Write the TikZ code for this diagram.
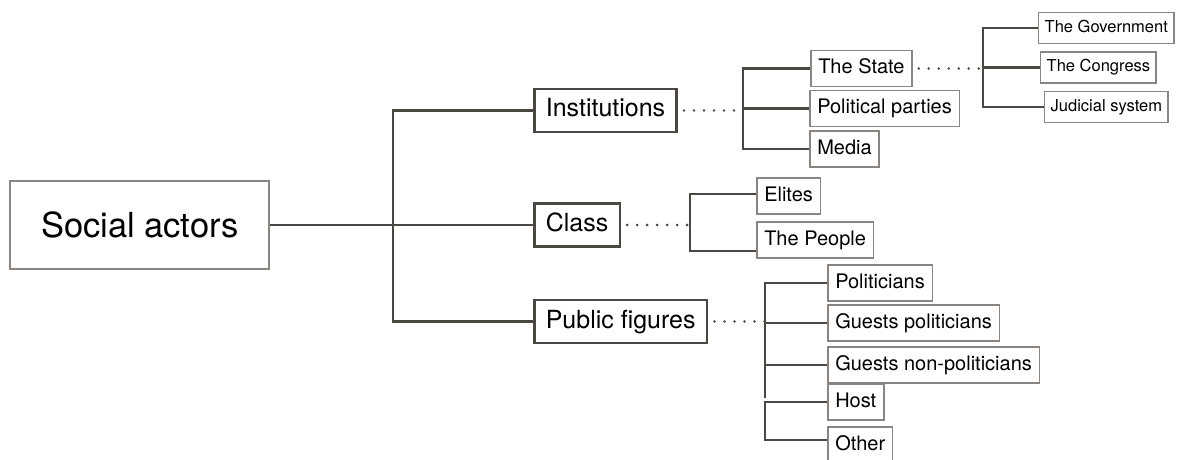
\documentclass[tikz,border=0pt]{standalone}
\usepackage{fontspec}
\setmainfont{TeX Gyre Heros}
\usepackage{tikz}

\definecolor{linegray}{HTML}{4B4742}
\definecolor{boxgray}{HTML}{8A8580}

\tikzset{
  rootbox/.style={draw=boxgray, line width=2pt, anchor=west, inner xsep=31pt,
    minimum height=88pt, font=\fontsize{34.5}{40}\selectfont},
  midbox/.style={draw=linegray, line width=2.6pt, anchor=west, inner xsep=11.5pt,
    minimum height=43pt, text height=18pt, text depth=5pt, font=\fontsize{25}{30}\selectfont},
  leafbox/.style={draw=boxgray, line width=1.5pt, anchor=west, inner xsep=7.5pt,
    minimum height=36pt, text height=15pt, text depth=4.5pt, font=\fontsize{20}{24}\selectfont},
  subbox/.style={draw=boxgray, line width=1.4pt, anchor=west, inner xsep=6pt,
    minimum height=31pt, text height=12pt, text depth=3.5pt, font=\fontsize{16.5}{20}\selectfont},
  branch/.style={draw=linegray, line width=2.8pt},
  dots/.style={draw=linegray, line width=2.8pt, line cap=round, dash pattern=on 0pt off 10pt}
}

\begin{document}
\begin{tikzpicture}[x=1pt, y=-1pt]
  \useasboundingbox (0,0) rectangle (1187,460);

  % Nodes
  \node[rootbox] (root) at (9,225) {Social actors};

  \foreach \n/\y/\t in {inst/110.5/Institutions, class/225/Class, pub/321.5/Public figures}{
    \node[midbox] (\n) at (533,\y) {\t};
  }

  \foreach \n/\x/\y/\t in {state/810/68.5/The State, parties/809/108.5/Political parties,
      media/809/149/Media, elites/756/196/Elites, people/756/240/The People,
      pol/827/283/Politicians, gpol/827/323/Guests politicians,
      gnon/827/365/Guests non-politicians, host/827/402/Host, other/827/445/Other}{
    \node[leafbox] (\n) at (\x,\y) {\t};
  }

  \foreach \n/\x/\y/\t in {gov/1038/28/The Government, cong/1040/67.5/The Congress,
      jud/1044/107/Judicial system}{
    \node[subbox] (\n) at (\x,\y) {\t};
  }

  % Trunks
  \coordinate (t0) at (393,225);
  \coordinate (t1) at (743,110.5);
  \coordinate (t2) at (690,225);
  \coordinate (t3) at (765,321.5);
  \coordinate (t3b) at (765,398);
  \coordinate (t3c) at (765,420);
  \coordinate (t4) at (983,68.5);

  % Edges
  \draw[branch] (root) -- (class);
  \draw[branch] (inst.west) -| (t0);
  \draw[branch] (t0) |- (pub.west);

  \draw[dots] ([xshift=6pt]inst.east) -- (t1);
  \foreach \n in {state,parties,media}{
    \draw[branch] (t1) |- (\n.west);
  }

  \draw[dots] ([xshift=6pt]class.east) -- (t2);
  \draw[branch] (t2) |- ([yshift=2pt]elites.west);
  \draw[branch] (t2) |- ([yshift=-11pt]people.west);

  \draw[dots] ([xshift=6pt]pub.east) -- (t3);
  \foreach \n in {pol,gpol,gnon}{
    \draw[branch] (t3) |- (\n.west);
  }
  \draw[branch] (t3) -- (t3b);
  \draw[branch] (host.west) -| (t3c) |- ([yshift=5pt]other.west);

  \draw[dots] ([xshift=6pt]state.east) -- (t4);
  \foreach \n in {gov,cong,jud}{
    \draw[branch] (t4) |- (\n.west);
  }

\end{tikzpicture}
\end{document}
